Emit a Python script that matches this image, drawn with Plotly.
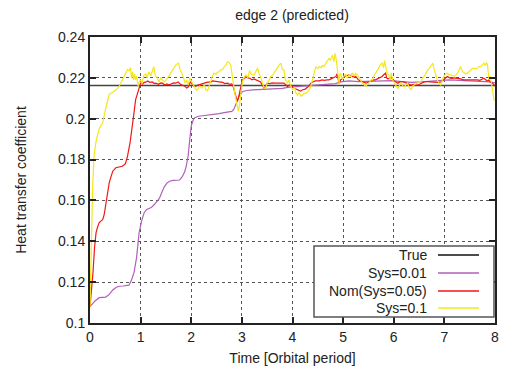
import plotly.graph_objects as go

title_text = "edge 2 (predicted)"
x_title = "Time [Orbital period]"
y_title = "Heat transfer coefficient"
x_ticks = [0, 1, 2, 3, 4, 5, 6, 7, 8]
y_ticks = [0.1, 0.12, 0.14, 0.16, 0.18, 0.2, 0.22, 0.24]
y_tick_labels = ["0.1", "0.12", "0.14", "0.16", "0.18", "0.2", "0.22", "0.24"]
series_names = ["True", "Sys=0.01", "Nom(Sys=0.05)", "Sys=0.1"]
series_colors = ["#444444", "#b060b8", "#f01818", "#f4e81a"]

true_x = [0, 8]
true_y = [0.2163, 0.2163]

sys001_x = [0, 0.05, 0.1, 0.18, 0.25, 0.31, 0.38, 0.45, 0.52, 0.58, 0.65, 0.72, 0.77, 0.82, 0.87,
            0.92, 0.97, 1.02, 1.07, 1.12, 1.17, 1.21, 1.27, 1.32, 1.37, 1.42, 1.47, 1.52, 1.57, 1.64,
            1.70, 1.77, 1.82, 1.87, 1.90, 1.94, 1.97, 2.00, 2.04, 2.07, 2.15, 2.25, 2.35, 2.45, 2.55,
            2.65, 2.75, 2.80, 2.84, 2.88, 2.92, 2.97, 3.02, 3.10, 3.22, 3.40, 3.60, 3.80, 3.94, 4.10,
            4.30, 4.50, 4.70, 4.85, 4.95, 5.05, 5.12, 5.30, 5.45, 5.60, 5.80, 5.97, 6.15, 6.35, 6.55,
            6.76, 6.95, 7.09, 7.30, 7.50, 7.74, 7.90, 8.00]
sys001_y = [0.108, 0.1095, 0.1108, 0.1124, 0.1125, 0.1127, 0.114, 0.1162, 0.1175, 0.118, 0.1181, 0.1182,
            0.1185, 0.121, 0.1248, 0.132, 0.1443, 0.150, 0.154, 0.1556, 0.156, 0.1565, 0.158, 0.1595,
            0.161, 0.164, 0.1668, 0.1685, 0.1694, 0.1698, 0.1699, 0.170, 0.1715, 0.174, 0.1767, 0.182,
            0.1897, 0.1965, 0.1995, 0.2005, 0.2012, 0.2015, 0.2018, 0.202, 0.2025, 0.203, 0.2034, 0.2036,
            0.2045, 0.207, 0.210, 0.2125, 0.2133, 0.2138, 0.2141, 0.2143, 0.2145, 0.2149, 0.2155, 0.2158,
            0.2162, 0.2163, 0.2166, 0.2172, 0.218, 0.2183, 0.2185, 0.2182, 0.2183, 0.2182, 0.2185, 0.2186,
            0.2182, 0.2178, 0.218, 0.2184, 0.2185, 0.219, 0.2188, 0.2186, 0.2183, 0.218, 0.2175]

nom_x = [0, 0.03, 0.06, 0.09, 0.12, 0.15, 0.18, 0.22, 0.25, 0.28, 0.31, 0.35, 0.38, 0.42, 0.45, 0.51,
         0.58, 0.64, 0.70, 0.74, 0.79, 0.84, 0.87, 0.90, 0.94, 0.97, 1.00, 1.04, 1.07, 1.10, 1.14, 1.18,
         1.23, 1.27, 1.30, 1.35, 1.40, 1.43, 1.48, 1.52, 1.56, 1.60, 1.65, 1.69, 1.74, 1.78, 1.82, 1.86,
         1.88, 1.91, 1.94, 1.97, 1.99, 2.03, 2.06, 2.10, 2.13, 2.18, 2.22, 2.26, 2.30, 2.35, 2.39, 2.42,
         2.45, 2.50, 2.54, 2.58, 2.62, 2.66, 2.72, 2.76, 2.80, 2.82, 2.85, 2.88, 2.91, 2.93, 2.95, 2.98,
         3.01, 3.05, 3.08, 3.12, 3.16, 3.20, 3.24, 3.28, 3.33, 3.37, 3.40, 3.44, 3.47, 3.50, 3.55, 3.60,
         3.65, 3.70, 3.75, 3.80, 3.83, 3.87, 3.90, 3.94, 3.98, 4.02, 4.07, 4.12, 4.16, 4.20, 4.25, 4.30,
         4.33, 4.37, 4.40, 4.45, 4.50, 4.53, 4.58, 4.63, 4.68, 4.72, 4.76, 4.80, 4.83, 4.86, 4.88, 4.90,
         4.92, 4.95, 4.98, 5.02, 5.06, 5.10, 5.12, 5.16, 5.20, 5.25, 5.30, 5.34, 5.38, 5.42, 5.45, 5.50,
         5.55, 5.60, 5.64, 5.68, 5.72, 5.77, 5.80, 5.84, 5.86, 5.88, 5.92, 5.95, 5.98, 6.02, 6.08, 6.12,
         6.16, 6.20, 6.25, 6.30, 6.34, 6.40, 6.47, 6.52, 6.56, 6.60, 6.66, 6.72, 6.80, 6.86, 6.93, 6.98,
         7.02, 7.06, 7.10, 7.15, 7.20, 7.26, 7.32, 7.38, 7.45, 7.52, 7.58, 7.65, 7.70, 7.75, 7.78, 7.82,
         7.86, 7.88, 7.91, 7.95, 7.98, 8.00]
nom_y = [0.108, 0.115, 0.125, 0.137, 0.1443, 0.147, 0.149, 0.150, 0.1506, 0.153, 0.1572, 0.163, 0.1687,
         0.172, 0.1743, 0.176, 0.1765, 0.1767, 0.178, 0.1816, 0.188, 0.1962, 0.203, 0.2092, 0.2125, 0.2157,
         0.2174, 0.217, 0.2178, 0.2179, 0.2185, 0.2178, 0.218, 0.2172, 0.2174, 0.2168, 0.2175, 0.2174,
         0.2165, 0.217, 0.2166, 0.217, 0.2175, 0.2174, 0.218, 0.217, 0.2166, 0.2162, 0.2158, 0.2150,
         0.2155, 0.2174, 0.218, 0.2165, 0.2158, 0.216, 0.2165, 0.2168, 0.217, 0.2174, 0.2178, 0.218, 0.218,
         0.2185, 0.2184, 0.218, 0.2178, 0.2176, 0.2178, 0.2172, 0.2174, 0.2168, 0.217, 0.2165, 0.214,
         0.211, 0.2085, 0.210, 0.2125, 0.216, 0.219, 0.2198, 0.2207, 0.220, 0.2198, 0.219, 0.2195, 0.219,
         0.2185, 0.218, 0.2165, 0.2149, 0.216, 0.2174, 0.2172, 0.2175, 0.2174, 0.2174, 0.2175, 0.2172,
         0.2174, 0.2165, 0.2158, 0.2165, 0.2162, 0.215, 0.2145, 0.2142, 0.2135, 0.2142, 0.2145, 0.2155,
         0.2165, 0.2175, 0.218, 0.2185, 0.2185, 0.2185, 0.219, 0.2188, 0.219, 0.2190, 0.2195, 0.220,
         0.2207, 0.2207, 0.222, 0.2185, 0.2174, 0.219, 0.2195, 0.2207, 0.221, 0.2212, 0.2215, 0.221,
         0.2205, 0.2207, 0.219, 0.2185, 0.218, 0.2175, 0.2174, 0.218, 0.2185, 0.219, 0.219, 0.2195, 0.220,
         0.2207, 0.2215, 0.2223, 0.220, 0.2195, 0.2198, 0.2207, 0.219, 0.2185, 0.2174, 0.218, 0.2182,
         0.218, 0.2175, 0.2172, 0.2165, 0.2168, 0.2165, 0.217, 0.2176, 0.218, 0.2182, 0.218, 0.218, 0.2178,
         0.218, 0.219, 0.2198, 0.2207, 0.220, 0.2198, 0.220, 0.2198, 0.2195, 0.219, 0.219, 0.2192, 0.219,
         0.219, 0.2188, 0.2192, 0.2198, 0.219, 0.2185, 0.219, 0.2178, 0.2174, 0.2165, 0.216]

sys01_x = [0, 0.02, 0.05, 0.08, 0.12, 0.18, 0.25, 0.31, 0.38, 0.45, 0.51, 0.58, 0.64, 0.70, 0.74, 0.77,
           0.80, 0.82, 0.84, 0.86, 0.88, 0.90, 0.92, 0.95, 0.97, 1.00, 1.03, 1.06, 1.10, 1.13, 1.16, 1.20,
           1.23, 1.26, 1.29, 1.33, 1.36, 1.40, 1.43, 1.47, 1.52, 1.56, 1.62, 1.66, 1.70, 1.75, 1.78, 1.82,
           1.85, 1.88, 1.91, 1.94, 1.97, 2.00, 2.03, 2.06, 2.10, 2.13, 2.17, 2.21, 2.26, 2.29, 2.32, 2.36,
           2.39, 2.42, 2.45, 2.49, 2.52, 2.55, 2.58, 2.62, 2.65, 2.69, 2.72, 2.75, 2.78, 2.80, 2.82, 2.85,
           2.88, 2.91, 2.93, 2.95, 2.98, 3.01, 3.04, 3.08, 3.12, 3.15, 3.18, 3.21, 3.24, 3.27, 3.31, 3.34,
           3.37, 3.40, 3.44, 3.47, 3.50, 3.54, 3.57, 3.60, 3.63, 3.67, 3.70, 3.74, 3.77, 3.80, 3.83, 3.86,
           3.90, 3.93, 3.96, 4.00, 4.04, 4.07, 4.10, 4.13, 4.17, 4.20, 4.24, 4.27, 4.30, 4.33, 4.37, 4.40,
           4.43, 4.46, 4.50, 4.53, 4.56, 4.59, 4.62, 4.66, 4.69, 4.72, 4.75, 4.79, 4.82, 4.84, 4.86, 4.88,
           4.89, 4.91, 4.92, 4.94, 4.95, 4.98, 5.02, 5.05, 5.08, 5.12, 5.15, 5.18, 5.22, 5.25, 5.28, 5.32,
           5.35, 5.38, 5.42, 5.45, 5.48, 5.51, 5.55, 5.58, 5.61, 5.64, 5.68, 5.71, 5.74, 5.77, 5.80, 5.82,
           5.84, 5.87, 5.90, 5.93, 5.95, 5.98, 6.01, 6.04, 6.08, 6.11, 6.14, 6.18, 6.21, 6.24, 6.27, 6.30,
           6.34, 6.37, 6.40, 6.44, 6.47, 6.50, 6.54, 6.57, 6.60, 6.64, 6.67, 6.70, 6.73, 6.77, 6.80, 6.83,
           6.86, 6.90, 6.93, 6.96, 6.99, 7.03, 7.06, 7.10, 7.13, 7.16, 7.19, 7.23, 7.26, 7.29, 7.32, 7.36,
           7.39, 7.42, 7.45, 7.49, 7.52, 7.55, 7.59, 7.62, 7.65, 7.69, 7.72, 7.75, 7.78, 7.81, 7.83, 7.85,
           7.87, 7.88, 7.91, 7.93, 7.95, 7.98, 8.00]
sys01_y = [0.108, 0.14, 0.165, 0.182, 0.189, 0.195, 0.198, 0.205, 0.212, 0.213, 0.214, 0.216, 0.219,
           0.222, 0.224, 0.2235, 0.225, 0.220, 0.223, 0.219, 0.222, 0.219, 0.221, 0.216, 0.218, 0.219, 0.217,
           0.221, 0.222, 0.220, 0.223, 0.221, 0.224, 0.2255, 0.221, 0.220, 0.218, 0.220, 0.219, 0.218,
           0.2195, 0.221, 0.223, 0.225, 0.2265, 0.2272, 0.224, 0.222, 0.219, 0.2174, 0.219, 0.2165, 0.220,
           0.218, 0.217, 0.2158, 0.214, 0.2145, 0.216, 0.215, 0.2165, 0.214, 0.2137, 0.2165, 0.219, 0.221,
           0.2223, 0.2218, 0.2228, 0.223, 0.2239, 0.224, 0.2255, 0.2265, 0.228, 0.2275, 0.2262, 0.222, 0.220,
           0.214, 0.210, 0.2055, 0.2036, 0.206, 0.211, 0.218, 0.220, 0.2215, 0.220, 0.2235, 0.222, 0.2215,
           0.2215, 0.223, 0.2247, 0.222, 0.2205, 0.218, 0.2149, 0.215, 0.2174, 0.219, 0.2207, 0.221, 0.2223,
           0.224, 0.2255, 0.2265, 0.2272, 0.224, 0.2239, 0.219, 0.2174, 0.219, 0.2165, 0.214, 0.2155, 0.2125,
           0.2115, 0.2128, 0.211, 0.2117, 0.2125, 0.2125, 0.2135, 0.214, 0.2165, 0.2198, 0.2225, 0.2255,
           0.2245, 0.2255, 0.225, 0.226, 0.2255, 0.2272, 0.228, 0.2296, 0.2285, 0.2312, 0.228, 0.232, 0.2296,
           0.225, 0.224, 0.219, 0.2174, 0.222, 0.2223, 0.2195, 0.2207, 0.222, 0.2198, 0.2215, 0.2205, 0.2225,
           0.221, 0.2223, 0.2215, 0.2198, 0.218, 0.2174, 0.2165, 0.2158, 0.217, 0.2174, 0.219, 0.219, 0.221,
           0.2223, 0.2235, 0.2255, 0.2265, 0.2272, 0.225, 0.2285, 0.2264, 0.222, 0.2215, 0.219, 0.2223,
           0.219, 0.2174, 0.2165, 0.2147, 0.2165, 0.2174, 0.216, 0.2158, 0.2165, 0.2174, 0.2155, 0.2141,
           0.216, 0.2165, 0.217, 0.2174, 0.218, 0.2182, 0.220, 0.2207, 0.223, 0.2239, 0.2245, 0.2255, 0.2272,
           0.2239, 0.221, 0.219, 0.217, 0.2165, 0.219, 0.2207, 0.222, 0.2223, 0.2215, 0.2215, 0.221, 0.2207,
           0.2215, 0.2223, 0.224, 0.2255, 0.223, 0.2223, 0.222, 0.2223, 0.223, 0.2239, 0.2245, 0.2247,
           0.2245, 0.2247, 0.2255, 0.2255, 0.2265, 0.2272, 0.226, 0.2275, 0.2264, 0.220, 0.2195, 0.2207,
           0.217, 0.216, 0.2093, 0.209]

xs = [true_x, sys001_x, nom_x, sys01_x]
ys = [true_y, sys001_y, nom_y, sys01_y]
widths = [1.5, 1.2, 1.2, 1.2]

fig = go.Figure()
for name, x, y, c, w in zip(series_names, xs, ys, series_colors, widths):
    fig.add_trace(go.Scatter(x=x, y=y, mode="lines", name=name,
                             line=dict(color=c, width=w), showlegend=False))

font_family = "Liberation Sans, Arial, sans-serif"
text_color = "#222222"

axis_common = dict(
    showline=True, linecolor="#222222", linewidth=2, mirror="allticks",
    ticks="inside", ticklen=6, tickwidth=2, tickcolor="#222222",
    showgrid=True, gridcolor="#555555", griddash="dot", gridwidth=1,
    zeroline=False, automargin=False,
    tickfont=dict(family=font_family, size=14, color=text_color),
)

fig.update_layout(
    width=505, height=371,
    margin=dict(l=90, r=10, t=37, b=48),
    paper_bgcolor="white", plot_bgcolor="white",
    title=dict(text=title_text, x=292 / 505, xanchor="center", y=1 - 15 / 371,
               yanchor="middle", font=dict(family=font_family, size=14, color=text_color)),
    xaxis=dict(range=[0, 8], tickvals=x_ticks, **axis_common,
               title=dict(text=x_title, standoff=9, font=dict(family=font_family, size=14, color=text_color))),
    yaxis=dict(range=[0.1, 0.24], tickvals=y_ticks, ticktext=y_tick_labels, **axis_common,
               title=dict(text=y_title, standoff=28, font=dict(family=font_family, size=14, color=text_color))),
    showlegend=False,
)

# gnuplot-style key: text right-aligned, sample line on the right
def px_to_paper_x(px):
    return (px - 90) / 405

def px_to_paper_y(py):
    return (323 - py) / 286

fig.add_shape(type="rect", xref="paper", yref="paper",
              x0=px_to_paper_x(314), x1=px_to_paper_x(494),
              y0=px_to_paper_y(317), y1=px_to_paper_y(246),
              line=dict(color="#555555", width=1.5), fillcolor="white", layer="above")
row_y = [255, 273, 291, 308]
for name, c, ry in zip(series_names, series_colors, row_y):
    fig.add_annotation(x=px_to_paper_x(429), y=px_to_paper_y(ry), xref="paper", yref="paper",
                       text=name, showarrow=False, xanchor="right", yanchor="middle",
                       font=dict(family=font_family, size=14, color=text_color))
    fig.add_shape(type="line", xref="paper", yref="paper",
                  x0=px_to_paper_x(438), x1=px_to_paper_x(479),
                  y0=px_to_paper_y(ry), y1=px_to_paper_y(ry),
                  line=dict(color=("#111111" if name == "True" else c), width=1.5), layer="above")

fig.write_html("out.html", config={"displayModeBar": False},
               post_script="document.body.style.margin='0';document.body.style.overflow='hidden';")
